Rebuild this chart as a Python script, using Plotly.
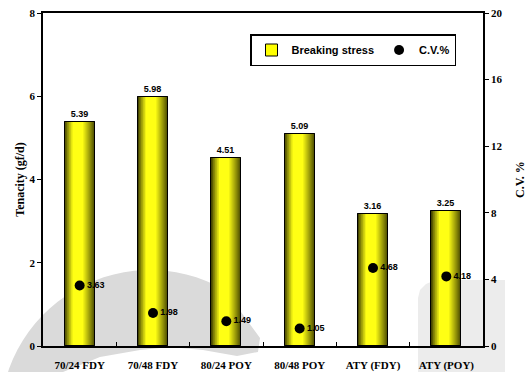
import math
import plotly.graph_objects as go

# ---- data ----
categories = ["70/24 FDY", "70/48 FDY", "80/24 POY", "80/48 POY", "ATY (FDY)", "ATY (POY)"]
tenacity = [5.39, 5.98, 4.51, 5.09, 3.16, 3.25]      # breaking stress, gf/d
cv_percent = [3.63, 1.98, 1.49, 1.05, 4.68, 4.18]    # coefficient of variation, %

W, H = 527, 372
L, R, T, B = 43, 483, 13, 346          # plot area in pixels

def px(x, y):
    """pixel position -> paper coordinates"""
    return (x - L) / (R - L), (B - y) / (B - T)

def path_from(points):
    pts = [px(x, y) for x, y in points]
    s = "M {:.4f},{:.4f} ".format(*pts[0])
    s += " ".join("L {:.4f},{:.4f}".format(*p) for p in pts[1:])
    return s + " Z"

fig = go.Figure()

# ---- cylinder-shaded bars ----
BAR_W = 0.41
HIGHLIGHT = 0.40
edge_rgb = (70, 70, 0)
core_rgb = (255, 255, 20)

# base trace (carries the legend entry)
fig.add_trace(go.Bar(
    x=categories, y=tenacity, width=BAR_W, name="Breaking stress",
    marker=dict(color="#ffff00", line=dict(color="black", width=1)),
    hoverinfo="skip", showlegend=True,
))

layers = 16
for k in range(layers):
    t = k / layers
    left = -BAR_W / 2 + t * 0.9 * HIGHLIGHT * BAR_W
    right = BAR_W / 2 - t * 0.9 * (1 - HIGHLIGHT) * BAR_W
    f = min(1.0, (t / 0.75) ** 0.9)
    col = "rgb({},{},{})".format(*[round(e + (c - e) * f) for e, c in zip(edge_rgb, core_rgb)])
    fig.add_trace(go.Bar(
        x=categories, y=tenacity, offset=left, width=right - left,
        marker=dict(color=col, line=dict(width=0)),
        hoverinfo="skip", showlegend=False,
    ))

# outline + value labels on top
fig.add_trace(go.Bar(
    x=categories, y=tenacity, width=BAR_W,
    marker=dict(color="rgba(0,0,0,0)", line=dict(color="black", width=1)),
    text=[f"{v:.2f}" for v in tenacity], textposition="outside",
    textfont=dict(family="Liberation Sans, Arial", size=9, color="black", weight="bold"),
    cliponaxis=False, hoverinfo="skip", showlegend=False,
))

# ---- C.V. markers ----
fig.add_trace(go.Scatter(
    x=categories, y=cv_percent, yaxis="y2", name="C.V.%",
    mode="markers+text",
    marker=dict(color="black", size=10),
    text=[f"{v:.2f}" for v in cv_percent], textposition="middle right",
    textfont=dict(family="Liberation Sans, Arial", size=9, color="black", weight="bold"),
    cliponaxis=False,
))

# ---- faint background emblem ----
outer = []
cx, cy, r = 150, 420, 150
for a in range(200, 301, 4):
    ang = math.radians(a)
    outer.append((cx + r * math.cos(ang), cy + r * math.sin(ang)))
ring = [(8, 372)] + outer + [(260, 338), (258, 352), (237, 356), (203, 350),
                              (170, 347), (140, 350), (100, 357), (63, 372)]
shapes = [
    dict(type="path", xref="paper", yref="paper", path=path_from(ring),
         fillcolor="#dadada", line=dict(width=0), layer="below"),
    dict(type="path", xref="paper", yref="paper",
         path=path_from([(418, 372), (418, 298), (420, 290), (426, 284), (436, 280),
                         (505, 280), (505, 372)]),
         fillcolor="#ececec", line=dict(width=0), layer="below"),
]

serif = dict(family="Liberation Serif, Times New Roman", size=11, color="black", weight="bold")

fig.update_layout(
    width=W, height=H,
    margin=dict(l=L, r=W - R, t=T, b=H - B, autoexpand=False),
    paper_bgcolor="white", plot_bgcolor="rgba(0,0,0,0)",
    barmode="overlay", bargap=0,
    shapes=shapes,
    showlegend=True,
    legend=dict(
        orientation="h", x=(250 - L) / (R - L), y=(B - 34) / (B - T),
        xanchor="left", yanchor="top",
        bgcolor="white", bordercolor="black", borderwidth=1.5,
        font=dict(family="Liberation Sans, Arial", size=11, color="black", weight="bold"),
        itemwidth=30, tracegroupgap=0,
    ),
    xaxis=dict(
        type="category", range=[-0.5, 5.5],
        showline=True, linecolor="black", linewidth=1.5, mirror=True,
        ticks="inside", tickson="boundaries", ticklen=4, tickcolor="black",
        tickfont=serif, ticklabelstandoff=8, showgrid=False, zeroline=False,
    ),
    yaxis=dict(
        range=[0, 8], dtick=2, showline=True, linecolor="black", linewidth=1.5,
        ticks="outside", ticklen=4, tickcolor="black", tickfont=serif,
        showgrid=False, zeroline=False,
        title=dict(text="Tenacity (gf/d)", standoff=2,
                   font=dict(family="Liberation Serif, Times New Roman", size=12,
                             color="black", weight="bold")),
    ),
    yaxis2=dict(
        range=[0, 20], dtick=4, overlaying="y", side="right",
        showline=True, linecolor="black", linewidth=1.5,
        ticks="outside", ticklen=4, tickcolor="black", tickfont=serif,
        showgrid=False, zeroline=False,
        title=dict(text="C.V. %", standoff=14,
                   font=dict(family="Liberation Serif, Times New Roman", size=12,
                             color="black", weight="bold")),
    ),
)

fig.write_html("out.html")
